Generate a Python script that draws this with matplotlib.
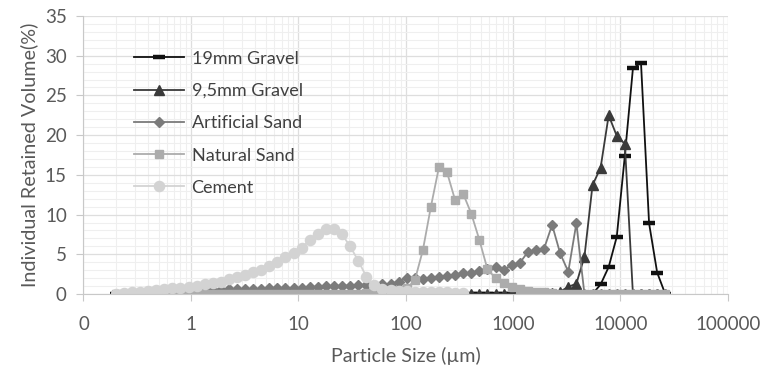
import numpy as np
import matplotlib
matplotlib.use("Agg")
import matplotlib.pyplot as plt
from matplotlib.ticker import FixedLocator, FixedFormatter, MultipleLocator

plt.rcParams['font.family'] = ['Lato', 'DejaVu Sans']

# particle size classes (um)
size = [0.2, 0.2378, 0.2828, 0.3364, 0.4, 0.4757, 0.5657, 0.6727, 0.8, 0.9514,
        1.131, 1.345, 1.6, 1.903, 2.263, 2.691, 3.2, 3.806, 4.526, 5.382,
        6.4, 7.611, 9.051, 10.76, 12.8, 15.22, 18.1, 21.53, 25.6, 30.44,
        36.2, 43.05, 51.2, 60.89, 72.41, 86.11, 102.4, 121.8, 144.8, 172.2,
        204.8, 243.5, 289.6, 344.4, 409.6, 487.1, 579.3, 688.9, 819.2, 974.2,
        1158, 1378, 1638, 1948, 2317, 2755, 3277, 3897, 4634, 5511,
        6554, 7794, 9268, 11022, 13107, 15587, 18536, 22044, 26214]

gravel19 = [0] * 60 + [1.2, 3.4, 7.2, 17.4, 28.4, 29.1, 8.9, 2.7, 0]
gravel95 = [0] * 53 + [0.05, 0.1, 0.3, 0.9, 1.3, 4.7, 13.7, 15.9, 22.5, 19.9, 18.9,
                       0, 0, 0, 0, 0]
art_sand = [0, 0.05, 0.1, 0.15, 0.2, 0.25, 0.3, 0.35, 0.4, 0.45,
            0.5, 0.5, 0.55, 0.55, 0.6, 0.6, 0.6, 0.65, 0.65, 0.7,
            0.7, 0.75, 0.75, 0.8, 0.85, 0.9, 0.95, 1.0, 1.05, 1.05,
            1.1, 1.1, 1.15, 1.2, 1.3, 1.55, 2.0, 2.0, 1.9, 2.0,
            2.1, 2.3, 2.4, 2.6, 2.7, 2.9, 3.2, 3.4, 3.0, 3.7,
            3.9, 5.3, 5.5, 5.7, 8.7, 5.1, 2.8, 8.9] + [0] * 11
nat_sand = [0] * 30 + [0.05, 0.1, 0.2, 0.3, 0.4, 0.5, 0.7, 1.7, 5.5, 11.0,
                       16.0, 15.3, 11.8, 12.6, 10.1, 6.8, 3.1, 2.0, 1.35, 0.9,
                       0.6, 0.4, 0.3, 0.2, 0.1] + [0] * 14
cement = [0.05, 0.1, 0.2, 0.3, 0.4, 0.5, 0.6, 0.7, 0.8, 0.9,
          1.05, 1.2, 1.4, 1.55, 1.9, 2.1, 2.4, 2.8, 3.0, 3.5,
          4.0, 4.6, 5.1, 5.8, 6.8, 7.6, 8.2, 8.2, 7.5, 6.0,
          4.2, 2.2, 1.1, 0.6, 0.45, 0.4, 0.35, 0.3, 0.3, 0.25,
          0.25, 0.2, 0.15, 0.1]

labels = ["19mm Gravel", "9,5mm Gravel", "Artificial Sand", "Natural Sand", "Cement"]
xticks = [0.1, 1, 10, 100, 1000, 10000, 100000]
xtick_labels = ["0", "1", "10", "100", "1000", "10000", "100000"]

fig = plt.figure(figsize=(7.61, 3.69), dpi=100)
ax = fig.add_axes([0.1097, 0.2033, 0.8465, 0.7533])

ax.plot(size, gravel19, color='#111111', lw=1.3, marker='_', ms=8, mew=3.2, label=labels[0])
ax.plot(size, gravel95, color='#3a3a3a', lw=1.3, marker='^', ms=7, label=labels[1])
ax.plot(size, art_sand, color='#7b7b7b', lw=1.3, marker='D', ms=5.5, label=labels[2])
ax.plot(size, nat_sand, color='#acacac', lw=1.3, marker='s', ms=6.3, label=labels[3])
ax.plot(size[:len(cement)], cement, color='#d3d3d3', lw=1.3, marker='o', ms=7.3, label=labels[4])

ax.set_xscale('log')
ax.set_xlim(0.1, 100000)
ax.set_ylim(0, 35)
ax.xaxis.set_major_locator(FixedLocator(xticks))
ax.xaxis.set_major_formatter(FixedFormatter(xtick_labels))
ax.yaxis.set_major_locator(MultipleLocator(5))
ax.yaxis.set_minor_locator(MultipleLocator(1))

ax.grid(which='major', color='#dedede', lw=0.9)
ax.grid(which='minor', color='#efefef', lw=0.8)
ax.set_axisbelow(True)
for s in ['top', 'right']:
    ax.spines[s].set_visible(False)
for s in ['left', 'bottom']:
    ax.spines[s].set_color('#c8c8c8')
ax.tick_params(which='major', length=5, color='#c8c8c8', labelsize=13.5, labelcolor='#595959')
ax.tick_params(axis='x', which='major', pad=11)
ax.tick_params(axis='y', which='major', pad=7)
ax.tick_params(which='minor', length=0)

ax.set_xlabel("Particle Size (µm)", fontsize=14.2, color='#595959', labelpad=10)
ax.set_ylabel("Individual Retained Volume(%)", fontsize=14.2, color='#595959', labelpad=5)

leg = ax.legend(loc='upper left', bbox_to_anchor=(0.078, 0.875), frameon=False,
                fontsize=13, handlelength=2.8, handletextpad=0.4, labelspacing=0.9,
                borderpad=0, borderaxespad=0, numpoints=1)
for t in leg.get_texts():
    t.set_color('#404040')

plt.savefig("out.png", dpi=100)
